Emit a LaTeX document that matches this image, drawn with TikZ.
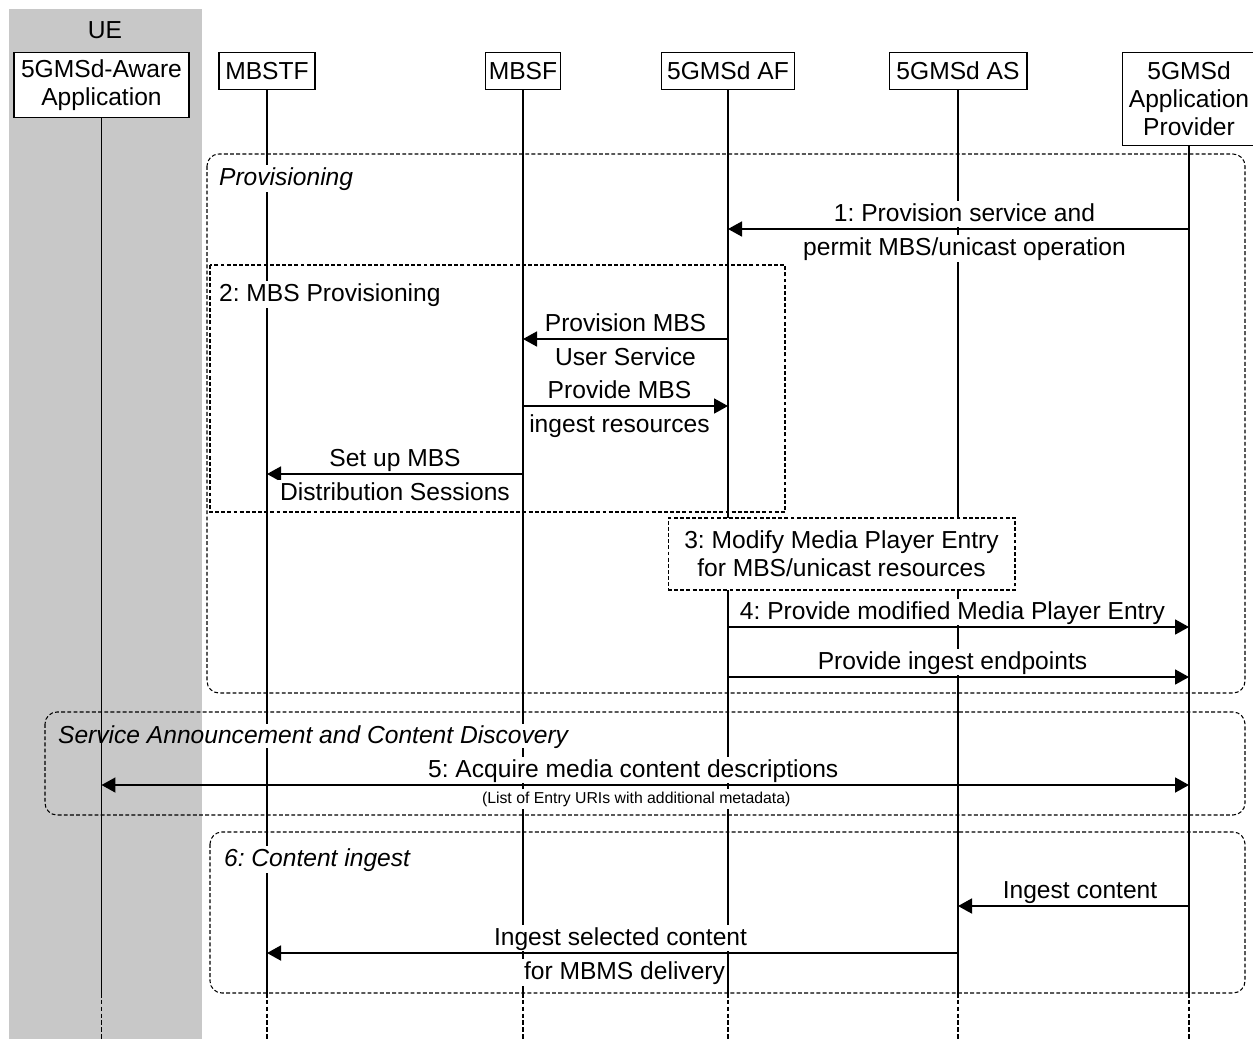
\documentclass[tikz,border=0pt]{standalone}
\usepackage{fontspec}
\setmainfont{Liberation Sans}
\usetikzlibrary{arrows.meta}
\definecolor{uegray}{RGB}{200,200,200}
\frenchspacing

\begin{document}
\begin{tikzpicture}[x=0.02cm, y=-0.02cm, >={Triangle[length=0.28cm,width=0.3cm]},
        every node/.style={font=\fontsize{14pt}{16pt}\selectfont},
        part/.style={draw, line width=0.6pt, fill=white, anchor=north, align=center, inner sep=2pt},
        life/.style={line width=0.8pt},
        msg/.style={line width=1pt, ->},
        lbl/.style={fill=white, inner sep=1pt, text height=10.5pt, text depth=2.5pt},
        small/.style={fill=white, inner sep=1pt, text height=7pt, text depth=2pt, font=\fontsize{9pt}{10pt}\selectfont},
        grp/.style={line width=0.6pt, dash pattern=on 2.2pt off 1.3pt},
        title/.style={anchor=base west, fill=white, inner sep=1pt}]
        \useasboundingbox (0,0) rectangle (1253,1039);

        % UE side
        \fill[uegray] (9,9) rectangle (202,1039);
        \node (ue) at (105,30) {UE};

        % Participants
        \node[part, minimum width=3.5cm, minimum height=1.3cm] (app) at (101.5,52) {5GMSd-Aware\\Application};
        \node[part, minimum width=1.92cm, minimum height=0.74cm] (mbstf) at (267,52) {MBSTF};
        \node[part, minimum width=1.5cm, minimum height=0.74cm] (mbsf) at (523,52) {MBSF};
        \node[part, minimum width=2.66cm, minimum height=0.74cm] (af) at (728,52) {5GMSd AF};
        \node[part, minimum width=2.76cm, minimum height=0.74cm] (asrv) at (958,52) {5GMSd AS};
        \node[part, minimum width=2.68cm, minimum height=1.86cm] (prov) at (1189,52) {5GMSd\\Application\\Provider};

        % Lifelines
        \foreach \n in {app,mbstf,mbsf,af,asrv,prov}{
            \draw[life] (\n.south) -- (\n.south |- 0,993);
            \draw[life, dash pattern=on 2.6pt off 1.3pt] (\n.south |- 0,993) -- (\n.south |- 0,1039);
        }

        % Frames
        \draw[grp, rounded corners=0.24cm] (207,154) rectangle (1245,693);
        \draw[grp] (210,265) rectangle (785,512);
        \draw[grp, rounded corners=0.24cm] (45,712) rectangle (1245,815);
        \draw[grp, rounded corners=0.24cm] (210,832) rectangle (1245,993);
        \fill[white] (202,724) rectangle (572,748);
        \node[title, font=\fontsize{14pt}{16pt}\selectfont\itshape] (tprov) at (217,185) {Provisioning};
        \node[title] (tmbs) at (217,301) {2: MBS Provisioning};
        \node[title, fill=none, font=\fontsize{14pt}{16pt}\selectfont\itshape] (tsacd) at (56,743) {Service Announcement and Content Discovery};
        \node[title, font=\fontsize{14pt}{16pt}\selectfont\itshape] (tingest) at (222,866) {6: Content ingest};

        % Step 3
        \node[grp, draw, fill=white, minimum width=6.94cm, minimum height=1.44cm, align=center] (modify) at (841.5,554) {3: Modify Media Player Entry\\for MBS/unicast resources};

        % Messages
        \draw[msg] (prov |- 0,229) -- node[lbl, above=0.5pt, xshift=0.12cm] {1: Provision service and} node[lbl, below=3pt, xshift=0.12cm] {permit MBS/unicast operation} (af |- 0,229);
        \draw[msg] (af |- 0,339) -- node[lbl, above=0.5pt] {Provision MBS} node[lbl, below=3pt] {User Service} (mbsf |- 0,339);
        \draw[msg] (mbsf |- 0,406) -- node[lbl, above=0.5pt, xshift=-0.12cm] {Provide MBS} node[lbl, below=3pt, xshift=-0.12cm] {ingest resources} (af |- 0,406);
        \draw[msg] (mbsf |- 0,474) -- node[lbl, above=0.5pt] {Set up MBS} node[lbl, below=3pt] {Distribution Sessions} (mbstf |- 0,474);
        \draw[msg] (af |- 0,627) -- node[lbl, above=0.5pt, xshift=-0.12cm] {4: Provide modified Media Player Entry} (prov |- 0,627);
        \draw[msg] (af |- 0,677) -- node[lbl, above=0.5pt, xshift=-0.12cm] {Provide ingest endpoints} (prov |- 0,677);
        \draw[msg, <->] (app |- 0,785) -- node[lbl, above=0.5pt, xshift=-0.24cm] {5: Acquire media content descriptions} node[small, below=2pt, xshift=-0.18cm] {(List of Entry URIs with additional metadata)} (prov |- 0,785);
        \draw[msg] (prov |- 0,906) -- node[lbl, above=0.5pt, xshift=0.13cm] {Ingest content} (asrv |- 0,906);
        \draw[msg] (asrv |- 0,953) -- node[lbl, above=0.5pt, xshift=0.16cm] {Ingest selected content} node[lbl, below=3pt, xshift=0.24cm] {for MBMS delivery} (mbstf |- 0,953);
\end{tikzpicture}
\end{document}
